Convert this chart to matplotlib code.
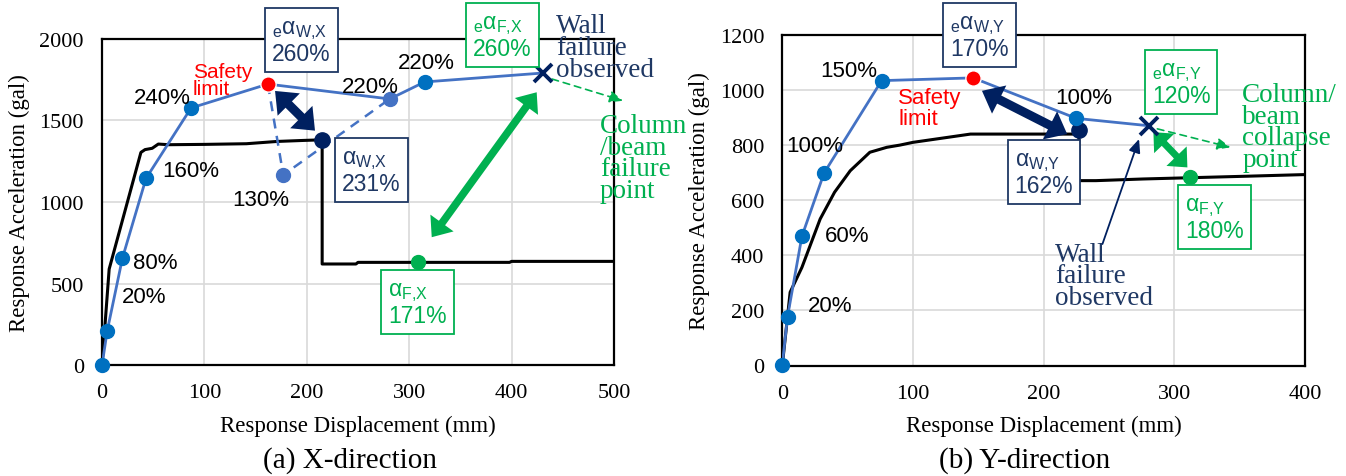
import matplotlib
matplotlib.use('Agg')
import matplotlib.pyplot as plt

plt.rcParams['mathtext.fontset'] = 'custom'
plt.rcParams['mathtext.rm'] = 'Liberation Sans'
plt.rcParams['mathtext.it'] = 'Liberation Sans'
plt.rcParams['mathtext.bf'] = 'Liberation Sans:bold'

# ---------------- data: X-direction ----------------
x_disp_pts = [0, 5, 20, 43, 87, 162, 281, 315]
x_acc_pts = [0, 208, 657, 1144, 1575, 1721, 1630, 1734]
x_wall_fail = (431, 1789)
x_branch_disp = [162, 177, 281]
x_branch_acc = [1721, 1165, 1630]
x_aw_pt = (215, 1380)
x_af_pt = (309, 630)
x_curve_disp = [0, 7, 38, 42, 49, 55, 65, 100, 141, 171, 196, 215, 215, 248, 250, 398, 400, 500]
x_curve_acc = [0, 589, 1303, 1320, 1328, 1354, 1350, 1352, 1356, 1370, 1376, 1380, 620, 620, 630, 630, 636, 636]

# ---------------- data: Y-direction ----------------
y_disp_pts = [0, 4, 15, 32, 76, 146, 225]
y_acc_pts = [3, 177, 469, 699, 1034, 1044, 897]
y_wall_fail = (281, 870)
y_aw_pt = (227, 855)
y_af_pt = (312, 683)
y_curve_disp = [0, 6, 15, 29, 40, 52, 67, 80, 90, 100, 144, 180, 227, 227, 240, 276, 355, 400]
y_curve_acc = [0, 266, 356, 532, 629, 707, 774, 792, 800, 810, 840, 840, 840, 671, 671, 677, 687, 693]

x_ticks_x = [0, 100, 200, 300, 400, 500]
y_ticks_x = [0, 500, 1000, 1500, 2000]
x_ticks_y = [0, 100, 200, 300, 400]
y_ticks_y = [0, 200, 400, 600, 800, 1000, 1200]

BLUE_LINE = '#4472C4'
BLUE_PT = '#0070C0'
NAVY = '#002060'
NAVY_T = '#1F3864'
GREEN = '#00B050'
RED = '#FF0000'
SERIF = 'Liberation Serif'
SANS = 'Liberation Sans'

fig = plt.figure(figsize=(13.46, 4.77), dpi=100)
axL = fig.add_axes([102/1346, 1-366.3/477, 512/1346, 326.8/477])
axR = fig.add_axes([782.3/1346, 1-366.5/477, 522.7/1346, 330.6/477])


def style_axes(ax, xt, yt):
    ax.set_xticks(xt)
    ax.set_yticks(yt)
    ax.set_xlim(xt[0], xt[-1])
    ax.set_ylim(yt[0], yt[-1])
    ax.grid(color='#D9D9D9', lw=1.2)
    ax.set_axisbelow(True)
    ax.tick_params(length=0, pad=13, labelsize=16)
    for lab in ax.get_xticklabels() + ax.get_yticklabels():
        lab.set_fontfamily(SERIF)
    for s in ax.spines.values():
        s.set_linewidth(1.6)
        s.set_color('black')
    ax.set_xlabel('Response Displacement (mm)', fontfamily=SERIF, fontsize=16.5, labelpad=9)
    ax.set_ylabel('Response Acceleration (gal)', fontfamily=SERIF, fontsize=16.5, labelpad=7)


def box(ax, x, y, text, color):
    ax.text(x, y, text, ha='center', va='center', multialignment='left',
            fontfamily=SANS, fontsize=16.5, color=color, linespacing=1.05,
            bbox=dict(boxstyle='square,pad=0.3', fc='white', ec=color, lw=1.3), zorder=8)


def dbl_arrow(ax, p1, p2, color, lw, hl, hw):
    ax.annotate('', xy=p1, xytext=p2,
                arrowprops=dict(arrowstyle=f'<|-|>,head_length={hl},head_width={hw}',
                                color=color, lw=lw, shrinkA=0, shrinkB=0,
                                joinstyle='miter', capstyle='butt'),
                zorder=6, annotation_clip=False)


def thin_arrow(ax, p_from, p_to, color, ls, lw=1.2):
    ax.annotate('', xy=p_to, xytext=p_from,
                arrowprops=dict(arrowstyle='-|>,head_length=0.8,head_width=0.35',
                                color=color, lw=lw, ls=ls, shrinkA=0, shrinkB=0),
                zorder=6, annotation_clip=False)


def pct_text(ax, x, y, s, ha='left'):
    ax.text(x, y, s, ha=ha, va='center', fontfamily=SANS, fontsize=16, color='black', zorder=7)


# ================= X-direction =================
ax = axL
style_axes(ax, x_ticks_x, y_ticks_x)
ax.plot(x_curve_disp, x_curve_acc, color='black', lw=2.2, zorder=3)
ax.plot(x_branch_disp, x_branch_acc, color=BLUE_LINE, lw=1.8, ls=(0, (4, 3)), zorder=4)
ax.plot(x_disp_pts + [x_wall_fail[0]], x_acc_pts + [x_wall_fail[1]], color=BLUE_LINE, lw=2.0, zorder=4)
main_idx = [0, 1, 2, 3, 4, 7]
ax.plot([x_disp_pts[i] for i in main_idx], [x_acc_pts[i] for i in main_idx], 'o',
        color=BLUE_PT, ms=10, zorder=5, clip_on=False)
ax.plot([x_disp_pts[6], x_branch_disp[1]], [x_acc_pts[6], x_branch_acc[1]], 'o',
        color=BLUE_LINE, ms=10, zorder=5)
ax.plot([x_disp_pts[5]], [x_acc_pts[5]], 'o', color=RED, mec='white', mew=1.0, ms=11, zorder=6)
ax.plot([x_aw_pt[0]], [x_aw_pt[1]], 'o', color=NAVY, ms=11, zorder=6)
ax.plot([x_af_pt[0]], [x_af_pt[1]], 'o', color=GREEN, ms=10, zorder=6)
ax.plot([x_wall_fail[0]], [x_wall_fail[1]], 'x', color=NAVY, ms=13, mew=2.8, zorder=7)

pct_text(ax, 19.5, 418, '20%')
pct_text(ax, 30, 630, '80%')
pct_text(ax, 58.6, 1191, '160%')
pct_text(ax, 31.3, 1636, '240%')
pct_text(ax, 127, 1017, '130%')
pct_text(ax, 261.7, 1709, '220%', ha='center')
pct_text(ax, 316.4, 1856, '220%', ha='center')
ax.text(88.9, 1746, 'Safety\nlimit', ha='left', va='center', fontfamily=SANS, fontsize=15,
        color=RED, linespacing=0.82, zorder=7)
box(ax, 194.8, 1982, r'${}_{\mathrm{e}}\alpha_{\mathrm{W{,}X}}$' + '\n260%', NAVY_T)
box(ax, 263.2, 1186, r'$\alpha_{\mathrm{W{,}X}}$' + '\n231%', NAVY_T)
box(ax, 391.1, 2012, r'${}_{\mathrm{e}}\alpha_{\mathrm{F{,}X}}$' + '\n260%', GREEN)
box(ax, 308, 380, r'$\alpha_{\mathrm{F{,}X}}$' + '\n171%', GREEN)
ax.text(443.4, 1945, 'Wall\nfailure\nobserved', ha='left', va='center', fontfamily=SERIF,
        fontsize=19.5, color=NAVY_T, linespacing=0.82, zorder=7)
ax.text(486.3, 1269, 'Column\n/beam\nfailure\npoint', ha='left', va='center', fontfamily=SERIF,
        fontsize=19.5, color=GREEN, linespacing=0.82, zorder=7)
dbl_arrow(ax, (169, 1679), (208, 1436), NAVY, 6.5, 0.55, 0.45)
dbl_arrow(ax, (424.5, 1671), (322, 784), GREEN, 5.5, 0.55, 0.45)
thin_arrow(ax, (439.5, 1752), (508.8, 1619), GREEN, (0, (4, 3)))
fig.text(350/1346, 1-461/477, '(a) X-direction', ha='center', va='center', fontfamily=SERIF, fontsize=21)

# ================= Y-direction =================
ax = axR
style_axes(ax, x_ticks_y, y_ticks_y)
ax.plot(y_curve_disp, y_curve_acc, color='black', lw=2.2, zorder=3)
ax.plot(y_disp_pts + [y_wall_fail[0]], y_acc_pts + [y_wall_fail[1]], color=BLUE_LINE, lw=2.0, zorder=4)
main_idx_y = [0, 1, 2, 3, 4, 6]
ax.plot([y_disp_pts[i] for i in main_idx_y], [y_acc_pts[i] for i in main_idx_y], 'o',
        color=BLUE_PT, ms=10, zorder=5, clip_on=False)
ax.plot([y_disp_pts[5]], [y_acc_pts[5]], 'o', color=RED, mec='white', mew=1.0, ms=11, zorder=6)
ax.plot([y_aw_pt[0]], [y_aw_pt[1]], 'o', color=NAVY, ms=11, zorder=4.5)
ax.plot([y_af_pt[0]], [y_af_pt[1]], 'o', color=GREEN, ms=10, zorder=6)
ax.plot([y_wall_fail[0]], [y_wall_fail[1]], 'x', color=NAVY, ms=13, mew=2.8, zorder=7)

pct_text(ax, 19.5, 216, '20%')
pct_text(ax, 32.2, 471, '60%')
pct_text(ax, 3.4, 798, '100%')
pct_text(ax, 28.9, 1070, '150%')
pct_text(ax, 209, 973, '100%')
ax.text(88.6, 935, 'Safety\nlimit', ha='left', va='center', fontfamily=SANS, fontsize=16,
        color=RED, linespacing=0.95, zorder=7)
box(ax, 150.8, 1194, r'${}_{\mathrm{e}}\alpha_{\mathrm{W{,}Y}}$' + '\n170%', NAVY_T)
box(ax, 200.3, 698, r'$\alpha_{\mathrm{W{,}Y}}$' + '\n162%', NAVY_T)
box(ax, 305.3, 1023, r'${}_{\mathrm{e}}\alpha_{\mathrm{F{,}Y}}$' + '\n120%', GREEN)
box(ax, 330.8, 534, r'$\alpha_{\mathrm{F{,}Y}}$' + '\n180%', GREEN)
ax.text(352, 866, 'Column/\nbeam\ncollapse\npoint', ha='left', va='center', fontfamily=SERIF,
        fontsize=19.5, color=GREEN, linespacing=0.82, zorder=7)
ax.text(208.6, 326, 'Wall\nfailure\nobserved', ha='left', va='center', fontfamily=SERIF,
        fontsize=19.5, color=NAVY_T, linespacing=0.82, zorder=7)
dbl_arrow(ax, (152.8, 997), (218, 840), NAVY, 6.5, 0.55, 0.45)
dbl_arrow(ax, (284, 847), (310, 719), GREEN, 5.0, 0.5, 0.45)
thin_arrow(ax, (287, 859), (343, 792), GREEN, (0, (4, 3)))
thin_arrow(ax, (245, 441), (273, 822), NAVY, '-', lw=1.3)
fig.text(1025/1346, 1-461/477, '(b) Y-direction', ha='center', va='center', fontfamily=SERIF, fontsize=21)

fig.savefig('out.png', dpi=100)
